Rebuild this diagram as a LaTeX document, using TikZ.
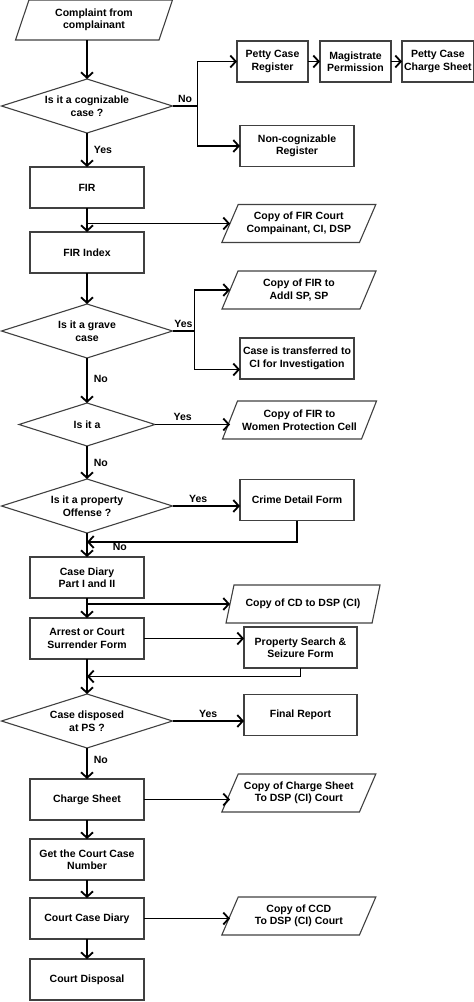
\documentclass[tikz,border=0pt]{standalone}
\usepackage{fontspec}
\setmainfont{Liberation Sans}
\usetikzlibrary{positioning, shapes.geometric, arrows.meta, calc}
\tikzset{
    box/.style={rectangle, draw=black!75, line width=1.1pt, minimum width=114pt, minimum height=41pt, inner sep=2pt, outer sep=0pt, align=center},
    sbox/.style={box, minimum width=71pt},
    wbox/.style={box, minimum width=113pt},
    decision/.style={diamond, draw=black!75, line width=1.1pt, minimum width=171pt, minimum height=54pt, aspect=3, inner sep=0pt, outer sep=0pt, align=center},
    sdecision/.style={decision, minimum width=136pt, minimum height=43pt},
    data/.style={trapezium, trapezium left angle=56, trapezium right angle=124, trapezium stretches body=true, draw=black!75, line width=1.1pt, minimum width=154pt, minimum height=38pt, inner sep=1pt, outer sep=0pt, align=center},
    start/.style={data, trapezium left angle=61, trapezium right angle=119, minimum width=157pt, minimum height=40pt},
    flow/.style={->, line width=1.8pt},
    link/.style={line width=1.8pt},
    lbl/.style={inner sep=3pt},
}

\begin{document}
\begin{tikzpicture}[>={Straight Barb[length=5.5pt,width=12pt]}, font=\fontsize{10.5}{12.5}\selectfont\bfseries]
        \useasboundingbox (0,0) rectangle (474pt,-1002pt);
        \node [start] (complaint) at (94pt,-20pt) {Complaint from\\complainant};
        \node [decision] (d1) [below=39pt of complaint, xshift=-7pt] {Is it a cognizable\\case ?};
        \node [sbox] (petty) [right=64.5pt of d1, yshift=44.5pt] {Petty Case\\Register};
        \node [sbox] (magistrate) [right=12pt of petty] {Magistrate\\Permission};
        \node [sbox] (pettysheet) [right=11pt of magistrate] {Petty Case\\Charge Sheet};
        \node [box] (noncog) [right=67.5pt of d1, yshift=-40pt] {Non-cognizable\\Register};
        \node [box] (fir) [below=34pt of d1] {FIR};
        \node [box] (firindex) [below=24pt of fir] {FIR Index};
        \node [data] (copyfir) [right=86pt of fir, yshift=-36pt] {Copy of FIR Court\\Compainant, CI, DSP};
        \node [decision] (d2) [below=31pt of firindex] {Is it a grave\\case};
        \node [data] (copyaddl) [right=57.5pt of d2, yshift=41pt] {Copy of FIR to\\Addl SP, SP};
        \node [box] (transfer) [right=67.5pt of d2, yshift=-27.5pt] {Case is transferred to\\CI for Investigation};
        \node [sdecision] (d3) [below=45pt of d2] {Is it a};
        \node [data] (copywomen) [right=75pt of d3, yshift=4.5pt] {Copy of FIR to\\Women Protection Cell};
        \node [decision] (d4) [below=33pt of d3] {Is it a property\\Offense ?};
        \node [box] (crime) [right=67.5pt of d4, yshift=6pt] {Crime Detail Form};
        \node [box] (casediary) [below=24pt of d4] {Case Diary\\Part I and II};
        \node [data] (copycd) [right=86pt of casediary, yshift=-26.5pt] {Copy of CD to DSP (CI)};
        \node [box] (arrest) [below=20pt of casediary] {Arrest or Court\\Surrender Form};
        \node [wbox] (property) [right=100pt of arrest, yshift=-9pt] {Property Search \&\\Seizure Form};
        \node [decision] (d5) [below=35pt of arrest] {Case disposed\\at PS ?};
        \node [wbox] (final) [right=71.5pt of d5, yshift=6pt] {Final Report};
        \node [box] (chargesheet) [below=31pt of d5] {Charge Sheet};
        \node [data] (copycs) [right=86pt of chargesheet, yshift=6.5pt] {Copy of Charge Sheet\\To DSP (CI) Court};
        \node [box] (getnum) [below=19pt of chargesheet] {Get the Court Case\\Number};
        \node [box] (ccd) [below=18pt of getnum] {Court Case Diary};
        \node [data] (copyccd) [right=86pt of ccd, yshift=2.5pt] {Copy of CCD\\To DSP (CI) Court};
        \node [box] (disposal) [below=20pt of ccd] {Court Disposal};
        \coordinate (fork1) at ($(d1.east)+(25pt,0)$);
        \coordinate (fork2) at ($(d2.east)+(22pt,0)$);
        \coordinate (join1) at ($(d4.south)!0.375!(casediary.north)$);
        \coordinate (join2) at ($(arrest.south)!0.5!(d5.north)$);
        \draw[flow] (complaint.south -| d1.north) -- (d1.north);
        \draw[link] (d1.east) -- node[lbl, above]{No} (fork1);
        \draw[flow] (fork1) |- (petty.west);
        \draw[flow] (fork1) |- (noncog.west);
        \draw[flow] (petty) -- (magistrate);
        \draw[flow] (magistrate) -- (pettysheet);
        \draw[flow] (d1) -- node[lbl, right, xshift=3pt]{Yes} (fir);
        \draw[flow] (fir) -- (firindex);
        \draw[flow] (fir.south |- copyfir.west) -- (copyfir.west);
        \draw[flow] (firindex) -- (d2);
        \draw[link] (d2.east) -- node[lbl, above]{Yes} (fork2);
        \draw[flow] (fork2) |- (copyaddl.west);
        \draw[flow] (fork2) |- ([yshift=-11pt]transfer.west);
        \draw[flow] (d2) -- node[lbl, right, xshift=3pt, pos=0.47]{No} (d3);
        \draw[flow] (d3.east) -- node[lbl, above, pos=0.37]{Yes} (d3.east -| copywomen.west);
        \draw[flow] (d3) -- node[lbl, right, xshift=3pt]{No} (d4);
        \draw[flow] (d4.east) -- node[lbl, above, pos=0.38]{Yes} (d4.east -| crime.west);
        \draw[flow] (d4) -- node[lbl, right, xshift=22pt, pos=0.6]{No} (casediary);
        \draw[flow] (crime.south) |- (join1);
        \draw[flow] (casediary) -- (arrest);
        \draw[flow] (casediary.south |- copycd.west) -- (copycd.west);
        \draw[flow] (arrest.east) -- (arrest.east -| property.west);
        \draw[flow] (arrest) -- (d5);
        \draw[flow] (property.south) |- (join2);
        \draw[flow] (d5.east) -- node[lbl, above]{Yes} (d5.east -| final.west);
        \draw[flow] (d5) -- node[lbl, right, xshift=3pt, pos=0.39]{No} (chargesheet);
        \draw[flow] (chargesheet.east) -- (chargesheet.east -| copycs.west);
        \draw[flow] (chargesheet) -- (getnum);
        \draw[flow] (getnum) -- (ccd);
        \draw[flow] (ccd.east) -- (ccd.east -| copyccd.west);
        \draw[flow] (ccd) -- (disposal);
    \end{tikzpicture}
\end{document}
